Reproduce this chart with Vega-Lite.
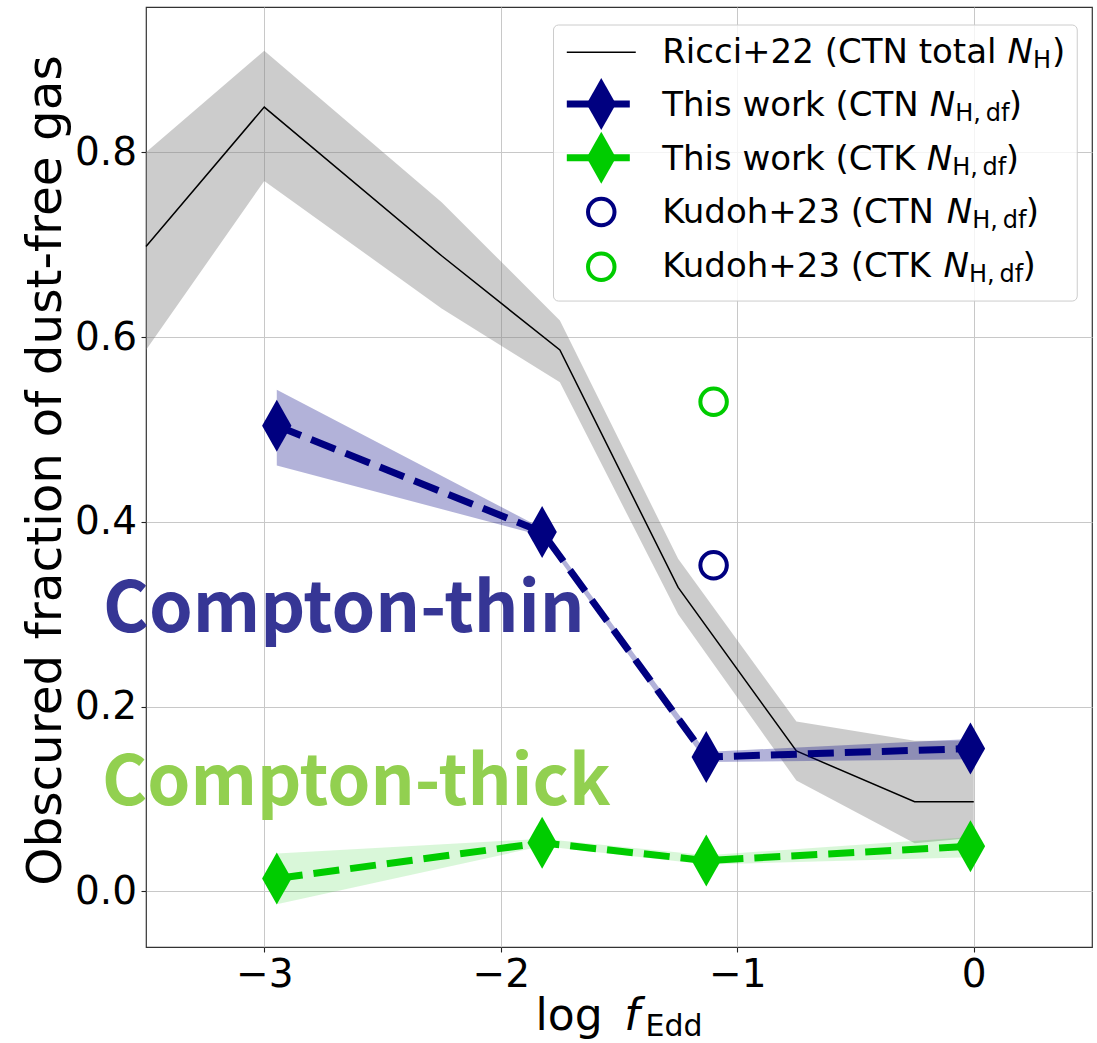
{
  "$schema": "https://vega.github.io/schema/vega-lite/v6.json",
  "width": 946,
  "height": 940,
  "autosize": {"type": "none"},
  "padding": {"left": 146, "top": 7, "right": 5, "bottom": 96},
  "background": "white",
  "config": {
    "view": {"stroke": "#333333", "strokeWidth": 1.2},
    "axis": {
      "domain": false,
      "grid": true,
      "gridColor": "#c8c8c8",
      "gridWidth": 1,
      "tickColor": "#222222",
      "tickSize": 5,
      "tickWidth": 1.1,
      "labelFont": "DejaVu Sans",
      "labelFontSize": 39,
      "labelColor": "#000000",
      "titleFont": "DejaVu Sans",
      "titleFontWeight": "normal",
      "titleColor": "#000000"
    }
  },
  "datasets": {
    "ricci": [
      {"x": -3.5, "y": 0.698, "lo": 0.586, "hi": 0.8},
      {"x": -3.0, "y": 0.849, "lo": 0.769, "hi": 0.91},
      {"x": -2.25, "y": 0.688, "lo": 0.631, "hi": 0.746},
      {"x": -1.75, "y": 0.586, "lo": 0.551, "hi": 0.618},
      {"x": -1.25, "y": 0.329, "lo": 0.3, "hi": 0.36},
      {"x": -0.75, "y": 0.152, "lo": 0.12, "hi": 0.184},
      {"x": -0.25, "y": 0.097, "lo": 0.052, "hi": 0.163},
      {"x": 0.0, "y": 0.097, "lo": 0.058, "hi": 0.163}
    ],
    "ctn": [
      {"x": -2.947, "y": 0.504, "lo": 0.461, "hi": 0.543},
      {"x": -1.825, "y": 0.389, "lo": 0.385, "hi": 0.393},
      {"x": -1.131, "y": 0.1454, "lo": 0.14, "hi": 0.151},
      {"x": -0.014, "y": 0.1546, "lo": 0.143, "hi": 0.165}
    ],
    "ctk": [
      {"x": -2.947, "y": 0.014, "lo": -0.014, "hi": 0.041},
      {"x": -1.825, "y": 0.0526, "lo": 0.049, "hi": 0.057},
      {"x": -1.131, "y": 0.0333, "lo": 0.029, "hi": 0.039},
      {"x": -0.014, "y": 0.0488, "lo": 0.037, "hi": 0.059}
    ],
    "kudoh": [
      {"set": "CTN", "x": -1.1, "y": 0.353},
      {"set": "CTK", "x": -1.1, "y": 0.53}
    ],
    "legbox": [
      {"x": -1.777, "x2": 0.4376, "y": 0.639, "y2": 0.9378}
    ],
    "legsym": [
      {"set": "Ricci", "x": -1.7207, "x2": -1.4291, "y": 0.9083},
      {"set": "CTN", "x": -1.7207, "x2": -1.4291, "y": 0.8523},
      {"set": "CTK", "x": -1.7207, "x2": -1.4291, "y": 0.7942},
      {"set": "CTNmark", "x": -1.575, "y": 0.8523},
      {"set": "CTKmark", "x": -1.575, "y": 0.7942},
      {"set": "KudohCTN", "x": -1.575, "y": 0.7354},
      {"set": "KudohCTK", "x": -1.575, "y": 0.6761}
    ],
    "notes": [
      {"part": "base", "x": -1.3174, "y": 0.8967, "t": "Ricci+22 (CTN total"},
      {"part": "N", "x": 0.143, "y": 0.8967, "t": "N"},
      {"part": "sub", "x": 0.2505, "y": 0.8967, "t": "H"},
      {"part": "paren", "x": 0.3309, "y": 0.8967, "t": ")"},
      {"part": "base", "x": -1.3174, "y": 0.8393, "t": "This work (CTN"},
      {"part": "N", "x": -0.1858, "y": 0.8393, "t": "N"},
      {"part": "sub", "x": -0.0783, "y": 0.8393, "t": "H,\u2009df"},
      {"part": "paren", "x": 0.1481, "y": 0.8393, "t": ")"},
      {"part": "base", "x": -1.3174, "y": 0.7814, "t": "This work (CTK"},
      {"part": "N", "x": -0.1989, "y": 0.7814, "t": "N"},
      {"part": "sub", "x": -0.0914, "y": 0.7814, "t": "H,\u2009df"},
      {"part": "paren", "x": 0.135, "y": 0.7814, "t": ")"},
      {"part": "base", "x": -1.3174, "y": 0.7234, "t": "Kudoh+23 (CTN"},
      {"part": "N", "x": -0.1138, "y": 0.7234, "t": "N"},
      {"part": "sub", "x": -0.0063, "y": 0.7234, "t": "H,\u2009df"},
      {"part": "paren", "x": 0.2201, "y": 0.7234, "t": ")"},
      {"part": "base", "x": -1.3174, "y": 0.6655, "t": "Kudoh+23 (CTK"},
      {"part": "N", "x": -0.1274, "y": 0.6655, "t": "N"},
      {"part": "sub", "x": -0.0199, "y": 0.6655, "t": "H,\u2009df"},
      {"part": "paren", "x": 0.2065, "y": 0.6655, "t": ")"},
      {"part": "xlog", "x": -1.8531, "y": -0.1504, "t": "log"},
      {"part": "xf", "x": -1.4782, "y": -0.1504, "t": "f"},
      {"part": "xsub", "x": -1.3877, "y": -0.1504, "t": "Edd"},
      {"part": "thin", "x": -3.682, "y": 0.2809, "t": "Compton-thin"},
      {"part": "thick", "x": -3.686, "y": 0.094, "t": "Compton-thick"}
    ]
  },
  "encoding": {
    "x": {
      "field": "x",
      "type": "quantitative",
      "scale": {"domain": [-3.5, 0.5], "nice": false, "zero": false},
      "axis": {"values": [-3, -2, -1, 0], "format": "d", "title": null, "labelPadding": 3}
    },
    "y": {
      "field": "y",
      "type": "quantitative",
      "scale": {"domain": [-0.0602, 0.9573], "nice": false, "zero": false},
      "axis": {
        "values": [0, 0.2, 0.4, 0.6, 0.8],
        "format": ".1f",
        "title": "Obscured fraction of dust-free gas",
        "titleFontSize": 48.5,
        "titlePadding": 4,
        "titleY": 463,
        "labelPadding": 4.5
      }
    }
  },
  "layer": [
    {
      "data": {"name": "ricci"},
      "mark": {"type": "area", "color": "#808080", "opacity": 0.4},
      "encoding": {"y": {"field": "lo"}, "y2": {"field": "hi"}}
    },
    {
      "data": {"name": "ricci"},
      "mark": {"type": "line", "color": "#000000", "strokeWidth": 1.5}
    },
    {
      "data": {"name": "ctn"},
      "mark": {"type": "area", "color": "#000080", "opacity": 0.3},
      "encoding": {"y": {"field": "lo"}, "y2": {"field": "hi"}}
    },
    {
      "data": {"name": "ctk"},
      "mark": {"type": "area", "color": "#00cc00", "opacity": 0.15},
      "encoding": {"y": {"field": "lo"}, "y2": {"field": "hi"}}
    },
    {
      "data": {"name": "notes"},
      "transform": [{"filter": "datum.part === 'thin'"}],
      "mark": {"type": "text", "align": "left", "baseline": "alphabetic", "font": "Noto Sans CJK JP", "fontWeight": "bold", "fontSize": 70, "color": "#363695"},
      "encoding": {"text": {"field": "t"}}
    },
    {
      "data": {"name": "notes"},
      "transform": [{"filter": "datum.part === 'thick'"}],
      "mark": {"type": "text", "align": "left", "baseline": "alphabetic", "font": "Noto Sans CJK JP", "fontWeight": "bold", "fontSize": 69, "color": "#92d050"},
      "encoding": {"text": {"field": "t"}}
    },
    {
      "data": {"name": "ctn"},
      "mark": {"type": "line", "color": "#000080", "strokeWidth": 7, "strokeDash": [26, 11]}
    },
    {
      "data": {"name": "ctk"},
      "mark": {"type": "line", "color": "#00cc00", "strokeWidth": 7, "strokeDash": [26, 11]}
    },
    {
      "data": {"name": "ctn"},
      "mark": {"type": "point", "shape": "M0,-1L0.565,0L0,1L-0.565,0Z", "filled": true, "size": 2704, "color": "#000080", "opacity": 1, "strokeWidth": 0}
    },
    {
      "data": {"name": "ctk"},
      "mark": {"type": "point", "shape": "M0,-1L0.565,0L0,1L-0.565,0Z", "filled": true, "size": 2704, "color": "#00cc00", "opacity": 1, "strokeWidth": 0}
    },
    {
      "data": {"name": "kudoh"},
      "transform": [{"filter": "datum.set === 'CTN'"}],
      "mark": {"type": "point", "shape": "circle", "filled": false, "size": 702, "strokeWidth": 4, "color": "#000080", "opacity": 1}
    },
    {
      "data": {"name": "kudoh"},
      "transform": [{"filter": "datum.set === 'CTK'"}],
      "mark": {"type": "point", "shape": "circle", "filled": false, "size": 702, "strokeWidth": 4, "color": "#00cc00", "opacity": 1}
    },
    {
      "data": {"name": "legbox"},
      "mark": {"type": "rect", "fill": "#ffffff", "fillOpacity": 0.8, "stroke": "#cccccc", "strokeWidth": 1, "cornerRadius": 5},
      "encoding": {"x2": {"field": "x2"}, "y2": {"field": "y2"}}
    },
    {
      "data": {"name": "legsym"},
      "transform": [{"filter": "datum.set === 'Ricci'"}],
      "mark": {"type": "rule", "color": "#000000", "strokeWidth": 1.5},
      "encoding": {"x2": {"field": "x2"}}
    },
    {
      "data": {"name": "legsym"},
      "transform": [{"filter": "datum.set === 'CTN'"}],
      "mark": {"type": "rule", "color": "#000080", "strokeWidth": 7, "strokeDash": [26, 11]},
      "encoding": {"x2": {"field": "x2"}}
    },
    {
      "data": {"name": "legsym"},
      "transform": [{"filter": "datum.set === 'CTK'"}],
      "mark": {"type": "rule", "color": "#00cc00", "strokeWidth": 7, "strokeDash": [26, 11]},
      "encoding": {"x2": {"field": "x2"}}
    },
    {
      "data": {"name": "legsym"},
      "transform": [{"filter": "datum.set === 'CTNmark'"}],
      "mark": {"type": "point", "shape": "M0,-1L0.565,0L0,1L-0.565,0Z", "filled": true, "size": 2704, "color": "#000080", "opacity": 1, "strokeWidth": 0}
    },
    {
      "data": {"name": "legsym"},
      "transform": [{"filter": "datum.set === 'CTKmark'"}],
      "mark": {"type": "point", "shape": "M0,-1L0.565,0L0,1L-0.565,0Z", "filled": true, "size": 2704, "color": "#00cc00", "opacity": 1, "strokeWidth": 0}
    },
    {
      "data": {"name": "legsym"},
      "transform": [{"filter": "datum.set === 'KudohCTN'"}],
      "mark": {"type": "point", "shape": "circle", "filled": false, "size": 702, "strokeWidth": 4, "color": "#000080", "opacity": 1}
    },
    {
      "data": {"name": "legsym"},
      "transform": [{"filter": "datum.set === 'KudohCTK'"}],
      "mark": {"type": "point", "shape": "circle", "filled": false, "size": 702, "strokeWidth": 4, "color": "#00cc00", "opacity": 1}
    },
    {
      "data": {"name": "notes"},
      "transform": [{"filter": "datum.part === 'base' || datum.part === 'paren'"}],
      "mark": {"type": "text", "align": "left", "baseline": "alphabetic", "font": "DejaVu Sans", "fontSize": 34, "color": "#000000"},
      "encoding": {"text": {"field": "t"}}
    },
    {
      "data": {"name": "notes"},
      "transform": [{"filter": "datum.part === 'N'"}],
      "mark": {"type": "text", "align": "left", "baseline": "alphabetic", "font": "DejaVu Sans", "fontStyle": "italic", "fontSize": 34, "color": "#000000"},
      "encoding": {"text": {"field": "t"}}
    },
    {
      "data": {"name": "notes"},
      "transform": [{"filter": "datum.part === 'sub'"}],
      "mark": {"type": "text", "align": "left", "baseline": "alphabetic", "font": "DejaVu Sans", "fontSize": 24, "dy": 5, "color": "#000000"},
      "encoding": {"text": {"field": "t"}}
    },
    {
      "data": {"name": "notes"},
      "transform": [{"filter": "datum.part === 'xlog'"}],
      "mark": {"type": "text", "align": "left", "baseline": "alphabetic", "font": "DejaVu Sans", "fontSize": 44, "color": "#000000"},
      "encoding": {"text": {"field": "t"}}
    },
    {
      "data": {"name": "notes"},
      "transform": [{"filter": "datum.part === 'xf'"}],
      "mark": {"type": "text", "align": "left", "baseline": "alphabetic", "font": "DejaVu Sans", "fontStyle": "italic", "fontSize": 44, "color": "#000000"},
      "encoding": {"text": {"field": "t"}}
    },
    {
      "data": {"name": "notes"},
      "transform": [{"filter": "datum.part === 'xsub'"}],
      "mark": {"type": "text", "align": "left", "baseline": "alphabetic", "font": "DejaVu Sans", "fontSize": 30, "dy": 6, "color": "#000000"},
      "encoding": {"text": {"field": "t"}}
    }
  ]
}
